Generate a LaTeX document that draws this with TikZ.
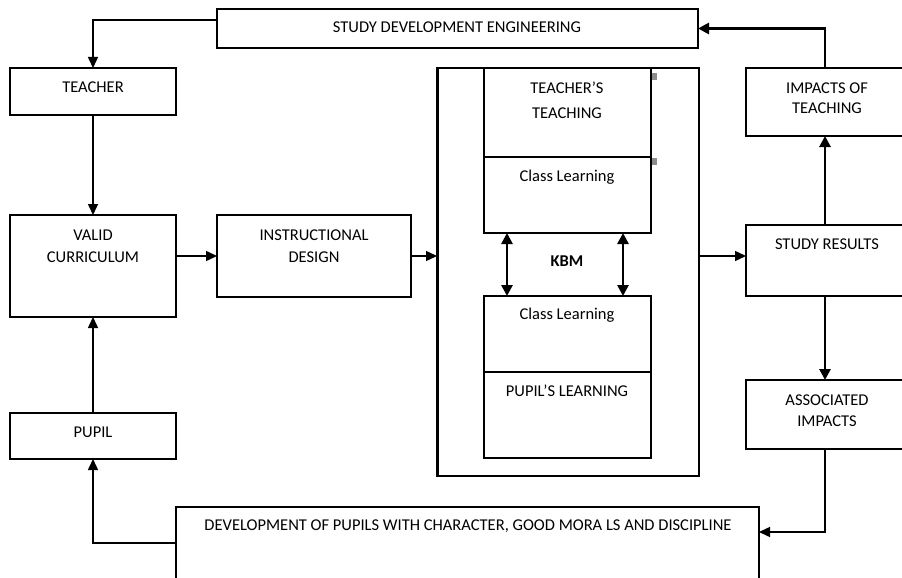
\documentclass[tikz,border=0pt]{standalone}
\usepackage{fontspec}
\setmainfont{Carlito}
\usetikzlibrary{arrows.meta}
\begin{document}
\begin{tikzpicture}[x=1pt,y=-1pt,
  box/.style={draw, line width=1.5pt, anchor=north west, inner sep=0pt, outer sep=0pt},
  lbl/.style={font=\fontsize{16.5}{22}\selectfont, align=center, inner sep=0pt, anchor=north},
  arr/.style={line width=1.5pt, -{Triangle[length=11pt,width=10pt]}},
  tarr/.style={line width=2.8pt, -{Triangle[length=11pt,width=11pt]}},
  darr/.style={line width=2.6pt, {Triangle[length=11pt,width=11pt]}-{Triangle[length=11pt,width=11pt]}},
  greymark/.style={fill=black!45}
]
\useasboundingbox (0,0) rectangle (902,578);

% boxes
\node[box, minimum width=481pt, minimum height=39pt] (sde) at (217,9) {};
\node[box, minimum width=166pt, minimum height=47pt] (teacher) at (10,68) {};
\node[box, minimum width=166pt, minimum height=102pt] (valid) at (10,215) {};
\node[box, minimum width=194pt, minimum height=82pt] (instr) at (217,215) {};
\node[box, minimum width=262pt, minimum height=408pt] (outer) at (437,68) {};
\node[box, minimum width=167pt, minimum height=89pt] (tt) at (484,68) {};
\node[box, minimum width=167pt, minimum height=76pt] (cl1) at (484,157) {};
\node[box, minimum width=167pt, minimum height=76pt] (cl2) at (484,296) {};
\node[box, minimum width=167pt, minimum height=86pt] (pl) at (484,372) {};
\node[box, minimum width=158pt, minimum height=68pt] (imp) at (746,68) {};
\node[box, minimum width=158pt, minimum height=71pt] (sr) at (746,225) {};
\node[box, minimum width=158pt, minimum height=69pt] (assoc) at (746,380) {};
\node[box, minimum width=166pt, minimum height=46pt] (pupil) at (10,413) {};
\node[box, minimum width=583pt, minimum height=83pt] (dev) at (176,507) {};

% thicker borders
\draw[line width=3pt] (outer.north west) -- (outer.south west);
\draw[line width=2.2pt] (tt.north west) -- (cl1.south west);
\draw[line width=2.2pt] (tt.north east) -- (cl1.south east);
\draw[line width=2.2pt] (cl2.north west) -- (pl.south west);
\draw[line width=2.2pt] (cl2.north east) -- (pl.south east);

% small grey marks
\fill[greymark] (652,73) rectangle (657,80);
\fill[greymark] (652,158) rectangle (657,165);

% labels
\node[lbl] (tsde) at (457,21.7) {STUDY DEVELOPMENT ENGINEERING};
\node[lbl] (tteacher) at (93,81.7) {TEACHER};
\node[lbl] (tvalid) at (93,229.7) {VALID\\CURRICULUM};
\node[lbl] (tinstr) at (314,229.7) {INSTRUCTIONAL\\DESIGN};
\node[lbl, font=\fontsize{16.5}{25}\selectfont] (ttt) at (567,81.7) {TEACHER’S\\TEACHING};
\node[lbl] (tcl1) at (567,170.2) {Class Learning};
\node[lbl] (tcl2) at (567,308.2) {Class Learning};
\node[lbl] (tpl) at (567,384.7) {PUPIL’S LEARNING};
\node[lbl, font=\fontsize{16.5}{20}\selectfont] (timp) at (827,82.7) {IMPACTS OF\\TEACHING};
\node[lbl] (tsr) at (827,238.7) {STUDY RESULTS};
\node[lbl, font=\fontsize{16.5}{21}\selectfont] (tassoc) at (827,394.7) {ASSOCIATED\\IMPACTS};
\node[lbl] (tpupil) at (93,426.7) {PUPIL};
\node[lbl] (tdev) at (468,519.7) {DEVELOPMENT OF PUPILS WITH CHARACTER, GOOD MORA LS AND DISCIPLINE};
\node[lbl, font=\bfseries\fontsize{16.5}{22}\selectfont] (kbm) at (567,255.7) {KBM};

% connectors
\draw[arr] ([yshift=8.5pt]sde.west) -| (teacher.north);
\draw[arr] (teacher.south) -- (valid.north);
\draw[arr] (pupil.north) -- (valid.south);
\draw[arr] ([yshift=5.5pt]dev.west) -| (pupil.south);
\draw[arr] (valid.east |- instr.west) -- (instr.west);
\draw[arr] (instr.east) -- (instr.east -| outer.west);
\draw[arr] (outer.east |- instr.east) -- (sr.west |- instr.east);
\draw[tarr] (sr.north) -- (imp.south);
\draw[tarr] (imp.north) |- (sde.east);
\draw[tarr] (sr.south) -- (assoc.north);
\draw[arr] (assoc.south) |- ([yshift=16.5pt]dev.east);
\draw[darr] ([xshift=-60.5pt]cl1.south) -- ([xshift=-60.5pt]cl2.north);
\draw[darr] ([xshift=55.5pt]cl1.south) -- ([xshift=55.5pt]cl2.north);
\end{tikzpicture}
\end{document}
